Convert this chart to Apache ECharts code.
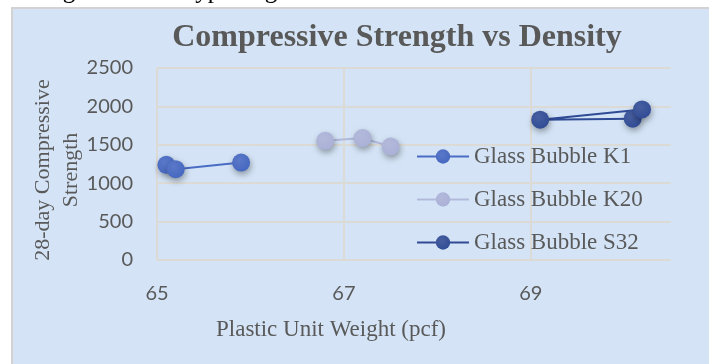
<!DOCTYPE html>
<html>
<head>
<meta charset="utf-8">
<script src="https://cdn.jsdelivr.net/npm/echarts@6/dist/echarts.min.js"></script>
<style>
html,body{margin:0;padding:0;background:#ffffff;}
#chart{width:709px;height:364px;}
</style>
</head>
<body>
<div id="chart"></div>
<script>
// ---- data ----
const seriesNames = ['Glass Bubble K1', 'Glass Bubble K20', 'Glass Bubble S32'];
const k1Weight = [65.1, 65.2, 65.9];
const k1Strength = [1239, 1183, 1269];
const k20Weight = [66.8, 67.2, 67.5];
const k20Strength = [1552, 1587, 1478];
const s32Weight = [70.09, 69.1, 70.19];
const s32Strength = [1840, 1827, 1961];
const xTicks = [65, 67, 69];
const yTicks = [0, 500, 1000, 1500, 2000, 2500];
const titleText = 'Compressive Strength vs Density';
const xTitle = 'Plastic Unit Weight (pcf)';
const yTitle = '28-day Compressive\nStrength';
const topText = 'ral weight for each type of glass bubble selected';

const colors = ['#4466c0', '#a9b0d6', '#2f4a94'];
const lineColors = ['#4a6cc4', '#b3b9db', '#304b96'];

function pairs(xs, ys) { return xs.map((x, i) => [x, ys[i]]); }
function grad(c) {
  return {
    type: 'radial', x: 0.4, y: 0.35, r: 0.75,
    colorStops: [
      { offset: 0, color: echarts.color.lift(c, 0.12) },
      { offset: 1, color: c }
    ]
  };
}

const data = [pairs(k1Weight, k1Strength), pairs(k20Weight, k20Strength), pairs(s32Weight, s32Strength)];

const chart = echarts.init(document.getElementById('chart'), null, { renderer: 'canvas' });
const gridColor = '#dcdad5';
const option = {
  animation: false,
  backgroundColor: '#ffffff',
  grid: { left: 157, right: 38, top: 68, bottom: 104 },
  graphic: [
    { type: 'text', z: -20, left: -6, top: -21,
      style: { text: topText, font: '25px "Liberation Serif"', fill: '#000000' } },
    { type: 'rect', z: -10, shape: { x: 12, y: 8, width: 700, height: 370 },
      style: { fill: '#d4e4f6', stroke: '#d2d2d2', lineWidth: 2 } },
    { type: 'text', z: 10, x: 397, y: 38,
      style: { text: titleText, font: 'bold 32px "Liberation Serif"', fill: '#595959', align: 'center', verticalAlign: 'middle' } },
    { type: 'text', z: 10, x: 57, y: 170, rotation: Math.PI / 2,
      style: { text: yTitle, font: '22px "Liberation Serif"', fill: '#595959', align: 'center', verticalAlign: 'middle', lineHeight: 28 } },
    { type: 'text', z: 10, x: 331, y: 330,
      style: { text: xTitle, font: '23px "Liberation Serif"', fill: '#595959', align: 'center', verticalAlign: 'middle' } }
  ],
  legend: {
    orient: 'vertical', left: 416, top: 145, padding: 0,
    itemWidth: 52, itemHeight: 18, itemGap: 20,
    data: seriesNames,
    textStyle: { fontFamily: 'Liberation Serif', fontSize: 23, color: '#595959', padding: [0, 0, 0, 0] }
  },
  xAxis: {
    type: 'value', min: xTicks[0], max: 70.5, interval: 2,
    axisLine: { show: false }, axisTick: { show: false },
    axisLabel: { showMaxLabel: false, margin: 24, fontFamily: 'Lato', fontSize: 20, color: '#595959',
      formatter: v => (xTicks.indexOf(v) >= 0 ? String(v) : '') },
    splitLine: { show: true, lineStyle: { color: [gridColor, gridColor, gridColor, 'rgba(0,0,0,0)'], width: 2 } }
  },
  yAxis: {
    type: 'value', min: yTicks[0], max: yTicks[yTicks.length - 1], interval: 500,
    axisLine: { show: false }, axisTick: { show: false },
    axisLabel: { margin: 24, fontFamily: 'Lato', fontSize: 20, color: '#595959', formatter: v => String(v) },
    splitLine: { show: true, lineStyle: { color: gridColor, width: 2 } }
  },
  series: seriesNames.map((name, i) => ({
    name: name, type: 'line', data: data[i],
    symbol: 'circle', symbolSize: 18,
    lineStyle: { color: lineColors[i], width: 2 },
    itemStyle: { color: grad(colors[i]), shadowBlur: 6, shadowColor: 'rgba(0,0,0,0.35)', shadowOffsetY: 3, shadowOffsetX: 1 },
    emphasis: { disabled: true }
  }))
};
chart.setOption(option);
</script>
</body>
</html>
